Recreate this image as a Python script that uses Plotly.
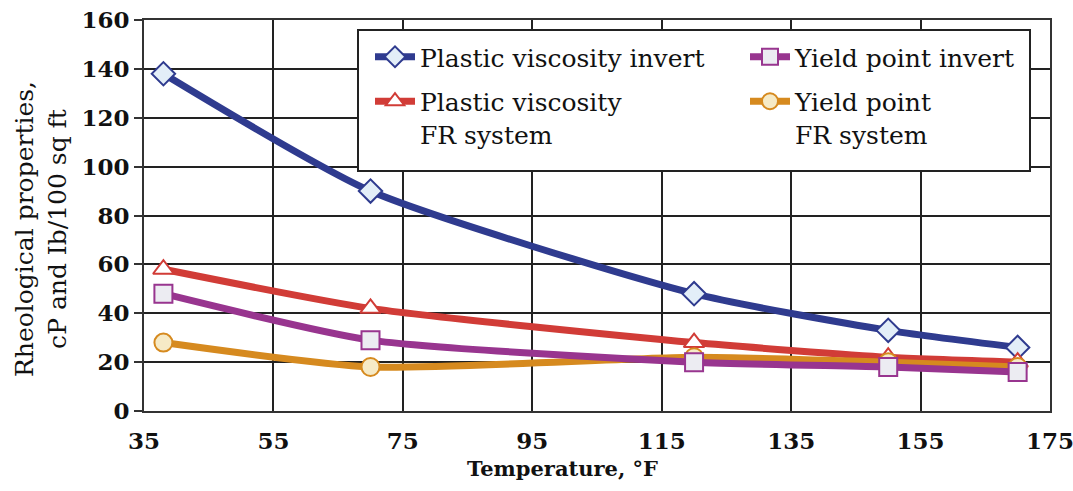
import plotly.graph_objects as go

temps = [38, 70, 120, 150, 170]
pv_invert = [138, 90, 48, 33, 26]
pv_fr = [58, 42, 28, 22, 20]
yp_invert = [48, 29, 20, 18, 16]
yp_fr = [28, 18, 22, 20, 18]

x_ticks = [35, 55, 75, 95, 115, 135, 155, 175]
y_ticks = [0, 20, 40, 60, 80, 100, 120, 140, 160]

FONT = "DejaVu Serif"

series = [
    # name, values, line color, marker symbol, marker fill, legend
    ("Plastic viscosity invert", pv_invert, "#2f3b8f", "diamond", "#e3eef8", "legend"),
    ("Plastic viscosity<br>FR system", pv_fr, "#d13c37", "triangle-up", "#ffffff", "legend"),
    ("Yield point<br>FR system", yp_fr, "#d68a1f", "circle", "#f6eac6", "legend2"),
    ("Yield point invert", yp_invert, "#98358f", "square", "#ececf2", "legend2"),
]
ranks = [1, 2, 2, 1]

fig = go.Figure()
for (name, vals, col, sym, fill, leg), rank in zip(series, ranks):
    fig.add_trace(go.Scatter(
        x=temps, y=vals, name=name, mode="lines+markers",
        line=dict(color=col, width=7, shape="spline", smoothing=0.6),
        marker=dict(symbol=sym, size=18, color=fill, line=dict(color=col, width=2)),
        legend=leg, legendrank=rank, legendgroup=name,
    ))

# legend frame (box behind the two legend columns)
fig.add_shape(type="rect", xref="paper", yref="paper",
              x0=(358 - 144) / 906, x1=(1030 - 144) / 906,
              y0=(411 - 171) / 391, y1=(411 - 30) / 391,
              fillcolor="white", line=dict(color="#222222", width=2), layer="above")

leg_common = dict(
    bgcolor="rgba(0,0,0,0)", borderwidth=0,
    font=dict(family=FONT, size=25, color="#111111"),
    itemwidth=40, valign="top", tracegroupgap=9,
    xanchor="left", yanchor="top",
)

fig.update_layout(
    width=1073, height=491,
    margin=dict(l=144, r=23, t=20, b=80, autoexpand=False),
    paper_bgcolor="white", plot_bgcolor="white",
    font=dict(family=FONT, color="#111111"),
    showlegend=True,
    legend=dict(x=(370 - 144) / 906, y=(411 - 34) / 391, **leg_common),
    legend2=dict(x=(745 - 144) / 906, y=(411 - 34) / 391, **leg_common),
    xaxis=dict(
        range=[35, 175], tickmode="array", tickvals=x_ticks,
        ticktext=[f"<b>{v}</b>" for v in x_ticks],
        showgrid=True, gridcolor="#222222", gridwidth=2,
        showline=True, linecolor="#333333", linewidth=2, mirror=True,
        ticks="", tickfont=dict(size=23), ticklabelstandoff=8,
        ticklabeloverflow="allow", automargin=False,
        zeroline=False,
    ),
    yaxis=dict(
        range=[0, 160], tickmode="array", tickvals=y_ticks,
        ticktext=[f"<b>{v}</b>" for v in y_ticks],
        showgrid=True, gridcolor="#222222", gridwidth=2,
        showline=True, linecolor="#333333", linewidth=2, mirror=True,
        ticks="outside", ticklen=8, tickcolor="#333333", tickwidth=2,
        tickfont=dict(size=23), automargin=False,
        zeroline=False,
    ),
    annotations=[
        dict(text="<b>Temperature, °F</b>", xref="paper", yref="paper",
             x=(562 - 144) / 906, y=(411 - 468) / 391, xanchor="center", yanchor="middle",
             showarrow=False, font=dict(family=FONT, size=21, color="#111111")),
        dict(text="Rheological properties,<br>cP and Ib/100 sq ft", xref="paper", yref="paper",
             x=(8 - 144) / 906, y=(411 - 229) / 391, xanchor="left", yanchor="middle",
             textangle=-90, showarrow=False,
             font=dict(family=FONT, size=25, color="#111111")),
    ],
)

fig.write_html("out.html")
